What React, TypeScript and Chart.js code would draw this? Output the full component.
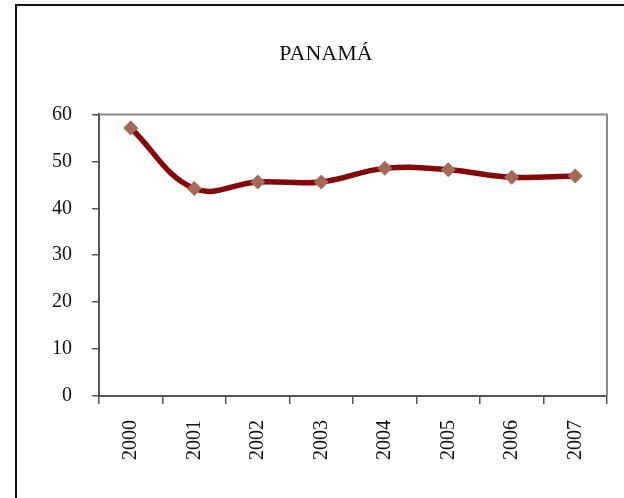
import React, { useEffect, useRef } from "react";
import { Chart, registerables } from "chart.js";

Chart.register(...registerables);

const titleText = "PANAMÁ";
const years = ["2000", "2001", "2002", "2003", "2004", "2005", "2006", "2007"];
const values = [57.1, 44.2, 45.6, 45.6, 48.5, 48.2, 46.6, 46.9];
const yMin = 0;
const yMax = 60;
const yStep = 10;

const FONT = "'Liberation Serif', 'DejaVu Serif', serif";

const boxPlugin = {
  id: "plotBox",
  afterDraw(chart: any) {
    const { ctx, chartArea } = chart;
    ctx.save();
    ctx.strokeStyle = "#8a8a8a";
    ctx.lineWidth = 2;
    ctx.beginPath();
    ctx.moveTo(chartArea.left, chartArea.top);
    ctx.lineTo(chartArea.right, chartArea.top);
    ctx.lineTo(chartArea.right, chartArea.bottom);
    ctx.stroke();
    ctx.restore();
  },
};

export default function App() {
  const ref = useRef<HTMLCanvasElement | null>(null);

  useEffect(() => {
    if (!ref.current) return;
    const chart = new Chart(ref.current, {
      type: "line",
      data: {
        labels: years,
        datasets: [
          {
            data: values,
            borderColor: "#850808",
            borderWidth: 5.5,
            tension: 0.4,
            pointStyle: "rectRot",
            pointRadius: 7.5,
            pointBackgroundColor: "#a5695a",
            pointBorderColor: "#a5695a",
            pointBorderWidth: 0,
            fill: false,
          },
        ],
      },
      options: {
        animation: false,
        responsive: false,
        maintainAspectRatio: false,
        layout: { padding: { top: 0, left: 45, right: 17, bottom: 0 } },
        plugins: {
          legend: { display: false },
          tooltip: { enabled: false },
          title: {
            display: true,
            text: titleText,
            color: "#111",
            font: { family: FONT, size: 22, weight: "normal" },
            padding: { top: 41, bottom: 47 },
          },
        },
        scales: {
          x: {
            type: "category",
            offset: true,
            grid: {
              offset: true,
              drawOnChartArea: false,
              drawTicks: true,
              tickLength: 8,
              color: "#555",
              lineWidth: 1.5,
            },
            border: { display: true, color: "#555", width: 2 },
            ticks: {
              maxRotation: 90,
              minRotation: 90,
              padding: 16,
              color: "#111",
              font: { family: FONT, size: 20 },
            },
            afterFit(scale: any) {
              scale.height = 102;
            },
          },
          y: {
            min: yMin,
            max: yMax,
            grid: {
              drawOnChartArea: false,
              drawTicks: true,
              tickLength: 7,
              color: "#555",
              lineWidth: 1.5,
            },
            border: { display: true, color: "#555", width: 2 },
            ticks: {
              stepSize: yStep,
              padding: 20,
              color: "#111",
              font: { family: FONT, size: 20 },
            },
            afterFit(scale: any) {
              scale.width = 54;
            },
          },
        },
      },
      plugins: [boxPlugin],
    });
    return () => chart.destroy();
  }, []);

  return (
    <div
      style={{
        position: "fixed",
        left: 0,
        top: 0,
        width: 624,
        height: 498,
        background: "#fff",
        overflow: "hidden",
      }}
    >
      <div
        style={{
          position: "absolute",
          left: 15,
          top: 4,
          width: 700,
          height: 600,
          borderLeft: "2px solid #111",
          borderTop: "2px solid #111",
        }}
      />
      <canvas
        ref={ref}
        width={624}
        height={498}
        style={{ position: "absolute", left: 0, top: 0, width: 624, height: 498 }}
      />
    </div>
  );
}
